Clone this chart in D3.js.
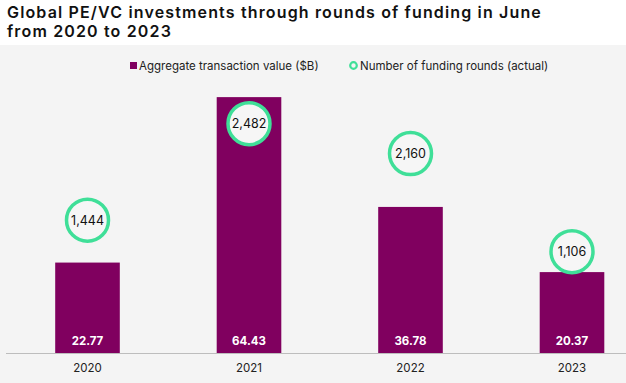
<!DOCTYPE html>
<html><head><meta charset="utf-8">
<script src="https://cdn.jsdelivr.net/npm/d3@7"></script>
<style>
html,body{margin:0;padding:0;background:#fff;}
svg{display:block;font-family:Inter,Roboto,"Noto Sans",sans-serif;}
</style></head>
<body><svg id="c" width="626" height="383"></svg>
<script>
const years = ["2020","2021","2022","2023"];
const aggValue = [22.77, 64.43, 36.78, 20.37];
const rounds = [1444, 2482, 2160, 1106];
const titleLines = ["Global PE/VC investments through rounds of funding in June","from 2020 to 2023"];
const legendLabels = ["Aggregate transaction value ($B)","Number of funding rounds (actual)"];

const W = 626, H = 383;
const svg = d3.select("#c");
const purple = "#80005f", green = "#3fdf98";

svg.append("rect").attr("x",0).attr("y",45).attr("width",W).attr("height",H-45).attr("fill","#f4f4f4");

svg.append("g").selectAll("text").data(titleLines).join("text")
  .attr("x",7).attr("y",(d,i)=>17.5+i*19.5)
  .attr("font-size",16).attr("font-weight",600).attr("letter-spacing",1.15).attr("fill","#111")
  .text(d=>d);

const x = d3.scaleBand().domain(years).range([6.75,652.75]).paddingInner(0.6).paddingOuter(0.3);
const y = d3.scaleLinear().domain([0,70]).range([353,75]);
const y2 = d3.scaleLinear().domain([0,3000]).range([354.5,75.5]);

// bars
svg.append("g").selectAll("rect").data(years).join("rect")
  .attr("x",d=>x(d)).attr("width",x.bandwidth())
  .attr("y",(d,i)=>y(aggValue[i])).attr("height",(d,i)=>y(0)-y(aggValue[i]))
  .attr("fill",purple);

// axis
const axis = d3.axisBottom(x).tickSize(0).tickPadding(10);
const ag = svg.append("g").attr("transform","translate(0,353.5)").call(axis);
ag.select(".domain").attr("stroke","#bdbdbd").attr("d","M6,0H626");
ag.selectAll("text").attr("font-size",11.5).attr("fill","#222").attr("font-family","Inter,Roboto,sans-serif");

// bar value labels
svg.append("g").selectAll("text").data(years).join("text")
  .attr("x",d=>x(d)+x.bandwidth()/2).attr("y",345)
  .attr("text-anchor","middle").attr("font-size",11.5).attr("font-weight",700).attr("fill","#fff")
  .text((d,i)=>aggValue[i].toFixed(2));

// circles
const cg = svg.append("g").selectAll("g").data(years).join("g")
  .attr("transform",(d,i)=>`translate(${x(d)+x.bandwidth()/2},${y2(rounds[i])})`);
cg.append("circle").attr("r",21).attr("fill","#f6f6f6").attr("stroke",green).attr("stroke-width",3.5);
cg.append("text").attr("text-anchor","middle").attr("dy","0.36em").attr("font-size",12.5).attr("fill","#111")
  .text((d,i)=>d3.format(",")(rounds[i]));

// legend
const lg = svg.append("g");
lg.append("rect").attr("x",130).attr("y",62).attr("width",7).attr("height",7).attr("fill",purple);
lg.append("text").attr("x",139).attr("y",69.5).attr("font-size",11.5).attr("fill","#222").text(legendLabels[0]);
lg.append("circle").attr("cx",353.5).attr("cy",65.5).attr("r",3.3).attr("fill","#f4f4f4").attr("stroke",green).attr("stroke-width",2.2);
lg.append("text").attr("x",360).attr("y",69.5).attr("font-size",11.5).attr("fill","#222").text(legendLabels[1]);
</script></body></html>
